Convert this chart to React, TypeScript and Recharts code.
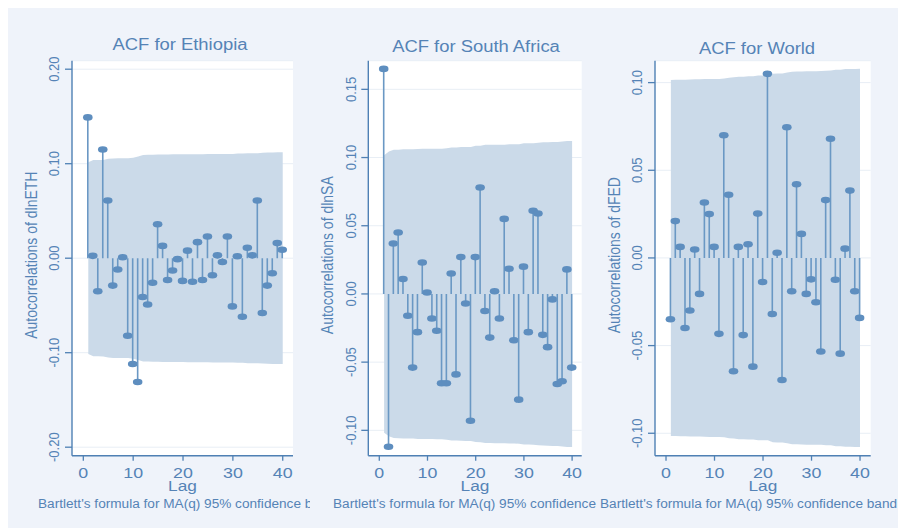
import React from 'react';
import { ComposedChart, Area, Bar, XAxis, YAxis, CartesianGrid, Label } from 'recharts';

if (typeof document !== 'undefined') {
  document.documentElement.style.overflow = 'hidden';
  document.body.style.overflow = 'hidden';
}

const lags = [1, 2, 3, 4, 5, 6, 7, 8, 9, 10, 11, 12, 13, 14, 15, 16, 17, 18, 19, 20, 21, 22, 23, 24, 25, 26, 27, 28, 29, 30, 31, 32, 33, 34, 35, 36, 37, 38, 39, 40];

const ethAcf = [0.149, 0.0025, -0.035, 0.115, 0.061, -0.029, -0.012, 0.001, -0.082, -0.112, -0.131, -0.041, -0.049, -0.026, 0.036, 0.013, -0.023, -0.013, -0.001, -0.024, 0.008, -0.025, 0.017, -0.023, 0.023, -0.018, 0.003, -0.004, 0.023, -0.051, 0.002, -0.062, 0.011, 0.003, 0.061, -0.058, -0.029, -0.016, 0.016, 0.009];
const ethBand = [0.1015, 0.1038, 0.1038, 0.1039, 0.1052, 0.1056, 0.1057, 0.1057, 0.1057, 0.1064, 0.1076, 0.1092, 0.1094, 0.1096, 0.1097, 0.1098, 0.1098, 0.1099, 0.1099, 0.1099, 0.11, 0.11, 0.1101, 0.1101, 0.1102, 0.1103, 0.1103, 0.1103, 0.1103, 0.1104, 0.1107, 0.1107, 0.1111, 0.1111, 0.1111, 0.1115, 0.1118, 0.1119, 0.112, 0.112];

const saAcf = [0.165, -0.112, 0.037, 0.045, 0.011, -0.016, -0.054, -0.028, 0.023, 0.001, -0.018, -0.027, -0.0655, -0.0655, 0.015, -0.059, 0.027, -0.007, -0.093, 0.027, 0.078, -0.0125, -0.032, 0.002, -0.018, 0.055, 0.0185, -0.034, -0.0775, 0.02, -0.028, 0.061, 0.059, -0.03, -0.039, -0.004, -0.066, -0.064, 0.018, -0.054];
const saBand = [0.1017, 0.1044, 0.1057, 0.1058, 0.106, 0.106, 0.106, 0.1063, 0.1064, 0.1064, 0.1064, 0.1065, 0.1065, 0.1069, 0.1074, 0.1074, 0.1077, 0.1078, 0.1078, 0.1086, 0.1087, 0.1093, 0.1093, 0.1094, 0.1094, 0.1094, 0.1097, 0.1097, 0.1098, 0.1104, 0.1104, 0.1105, 0.1109, 0.1112, 0.1113, 0.1114, 0.1114, 0.1118, 0.1122, 0.1122];

const wldAcf = [-0.035, 0.021, 0.0063, -0.04, -0.03, 0.0048, -0.0205, 0.0316, 0.025, 0.0063, -0.0433, 0.07, 0.036, -0.0646, 0.0063, -0.044, 0.0078, -0.062, 0.0253, -0.0137, 0.105, -0.032, 0.003, -0.0696, 0.0745, -0.019, 0.042, 0.0137, -0.0205, -0.0122, -0.0253, -0.0534, 0.033, 0.068, -0.0124, -0.0546, 0.0053, 0.0384, -0.019, -0.0342];
const wldBand = [0.1015, 0.1016, 0.1017, 0.1017, 0.1018, 0.1019, 0.1019, 0.102, 0.1021, 0.1021, 0.1021, 0.1023, 0.1028, 0.103, 0.1034, 0.1034, 0.1036, 0.1036, 0.104, 0.104, 0.104, 0.1051, 0.1052, 0.1052, 0.1057, 0.1062, 0.1063, 0.1064, 0.1065, 0.1065, 0.1065, 0.1066, 0.1068, 0.1069, 0.1074, 0.1074, 0.1077, 0.1077, 0.1078, 0.1079];

const xTicks = [0, 10, 20, 30, 40];
const ethYTicks = [-0.2, -0.1, 0, 0.1, 0.2];
const saYTicks = [-0.1, -0.05, 0, 0.05, 0.1, 0.15];
const wldYTicks = [-0.1, -0.05, 0, 0.05, 0.1];

const titles = ['ACF for Ethiopia', 'ACF for South Africa', 'ACF for World'];
const yTitles = ['Autocorrelations of dlnETH', 'Autocorrelations of dlnSA', 'Autocorrelations of dFED'];
const xTitle = 'Lag';
const footnote = "Bartlett's formula for MA(q) 95% confidence band";

const FONT = '"Liberation Sans", Arial, Helvetica, sans-serif';
const BG = '#EFF3FA';
const TXT = '#5583B6';
const AXIS = '#4F80B4';
const BAND = '#CBDAE9';
const STEM = '#6A98C4';
const MARK = '#5E8EBF';
const GRID = '#E8EEF5';

const buildRows = (acf: number[], band: number[]) =>
  lags.map((lag, i) => ({ lag, acf: acf[i], band: [-band[i], band[i]] }));

const Stem = (props: any) => {
  const { x, y, width, height, payload } = props;
  if (x == null || y == null) return null;
  const cx = x + width / 2;
  const a = y;
  const b = y + (height || 0);
  const v = payload ? payload.acf : 0;
  const my = v >= 0 ? Math.min(a, b) : Math.max(a, b);
  return (
    <g>
      <line x1={cx} y1={a} x2={cx} y2={b} stroke={STEM} strokeWidth={1.6} />
      <ellipse cx={cx} cy={my} rx={4.8} ry={3.3} fill={MARK} />
    </g>
  );
};

const XTick = (props: any) => {
  const { x, y, payload } = props;
  return (
    <text transform={`translate(${x},${y + 15.5}) scale(1.15,1)`} textAnchor="middle" fontSize={15.5} fontFamily={FONT} fill={TXT}>
      {payload.value}
    </text>
  );
};

const YTick = (props: any) => {
  const { x, y, payload } = props;
  return (
    <text transform={`translate(${x - 3.6},${y}) rotate(-90) scale(1,1.15)`} textAnchor="middle" fontSize={13} fontFamily={FONT} fill={TXT}>
      {Number(payload.value).toFixed(2)}
    </text>
  );
};

const makeYTitle = (text: string) => (props: any) => {
  const vb = props.viewBox || {};
  const ax = vb.x + vb.width;
  const cy = vb.y + vb.height / 2 - 3;
  return (
    <text transform={`translate(${ax - 35},${cy}) rotate(-90) scale(1,1.15)`} textAnchor="middle" fontSize={14} fontFamily={FONT} fill={TXT}>
      {text}
    </text>
  );
};

const makeXTitle = (text: string) => (props: any) => {
  const vb = props.viewBox || {};
  const cx = vb.x + vb.width / 2;
  return (
    <text transform={`translate(${cx},${vb.y + 35}) scale(1.15,1)`} textAnchor="middle" fontSize={15} fontFamily={FONT} fill={TXT}>
      {text}
    </text>
  );
};

type PanelProps = {
  rows: any[];
  yTicks: number[];
  yDomain: [number, number];
  xDomain: [number, number];
  left: number;
  width: number;
  mLeft: number;
  mRight: number;
  yTitle: string;
};

const Panel = ({ rows, yTicks, yDomain, xDomain, left, width, mLeft, mRight, yTitle }: PanelProps) => (
  <div style={{ position: 'absolute', left, top: 0 }}>
    <ComposedChart width={width} height={520} data={rows} margin={{ top: 52.7, right: mRight, bottom: 42.3, left: mLeft }}>
      <CartesianGrid vertical={false} stroke={GRID} strokeWidth={1} fill="#ffffff" />
      <XAxis
        dataKey="lag"
        type="number"
        domain={xDomain}
        allowDataOverflow
        ticks={xTicks}
        interval={0}
        height={30}
        tickSize={5}
        tickMargin={2}
        tick={<XTick />}
        tickLine={{ stroke: AXIS, strokeWidth: 1.3 }}
        axisLine={{ stroke: AXIS, strokeWidth: 1.4 }}
      >
        <Label content={makeXTitle(xTitle)} />
      </XAxis>
      <YAxis
        type="number"
        domain={yDomain}
        allowDataOverflow
        ticks={yTicks}
        interval={0}
        width={40}
        tickSize={7}
        tickMargin={2}
        tick={<YTick />}
        tickLine={{ stroke: AXIS, strokeWidth: 1.3 }}
        axisLine={{ stroke: AXIS, strokeWidth: 1.4 }}
      >
        <Label content={makeYTitle(yTitle)} />
      </YAxis>
      <Area
        type="linear"
        dataKey="band"
        stroke="none"
        fill={BAND}
        fillOpacity={1}
        dot={false}
        activeDot={false}
        isAnimationActive={false}
      />
      <Bar dataKey="acf" barSize={2} shape={<Stem />} isAnimationActive={false} />
    </ComposedChart>
  </div>
);

const TitleText = ({ text, cx, top }: { text: string; cx: number; top: number }) => (
  <div
    style={{
      position: 'absolute',
      left: cx - 150,
      top,
      width: 300,
      textAlign: 'center',
      fontFamily: FONT,
      fontSize: 16,
      lineHeight: '16px',
      color: TXT,
      transform: 'scaleX(1.15)',
      transformOrigin: 'center',
      whiteSpace: 'nowrap',
    }}
  >
    {text}
  </div>
);

const Foot = ({ left, clip, sx }: { left: number; clip: number; sx: number }) => (
  <div style={{ position: 'absolute', left, top: 489.8, width: clip, height: 16, overflow: 'hidden' }}>
    <div
      style={{
        fontFamily: FONT,
        fontSize: 12,
        lineHeight: '12px',
        color: TXT,
        transform: `scaleX(${sx})`,
        transformOrigin: 'left',
        whiteSpace: 'nowrap',
      }}
    >
      {footnote}
    </div>
  </div>
);

export default function App() {
  const ethRows = buildRows(ethAcf, ethBand);
  const saRows = buildRows(saAcf, saBand);
  const wldRows = buildRows(wldAcf, wldBand);
  return (
    <div style={{ position: 'fixed', left: 8, top: 8, right: 0, bottom: 0, background: BG, overflow: 'hidden' }}>
      <Panel rows={ethRows} yTicks={ethYTicks} yDomain={[-0.209, 0.209]} xDomain={[-2.27, 42.06]} left={0} width={300} mLeft={24} mRight={15} yTitle={yTitles[0]} />
      <Panel rows={saRows} yTicks={saYTicks} yDomain={[-0.1186, 0.171]} xDomain={[-2.28, 41.99]} left={300} width={290} mLeft={20.3} mRight={16.3} yTitle={yTitles[1]} />
      <Panel rows={wldRows} yTicks={wldYTicks} yDomain={[-0.1128, 0.1125]} xDomain={[-2.27, 42.2]} left={590} width={300} mLeft={17} mRight={27.3} yTitle={yTitles[2]} />
      <TitleText text={titles[0]} cx={172} top={28.5} />
      <TitleText text={titles[1]} cx={467.8} top={31.2} />
      <TitleText text={titles[2]} cx={748.7} top={32.5} />
      <Foot left={30} clip={272} sx={1.135} />
      <Foot left={325} clip={266} sx={1.135} />
      <Foot left={592} clip={300} sx={1.135} />
    </div>
  );
}
